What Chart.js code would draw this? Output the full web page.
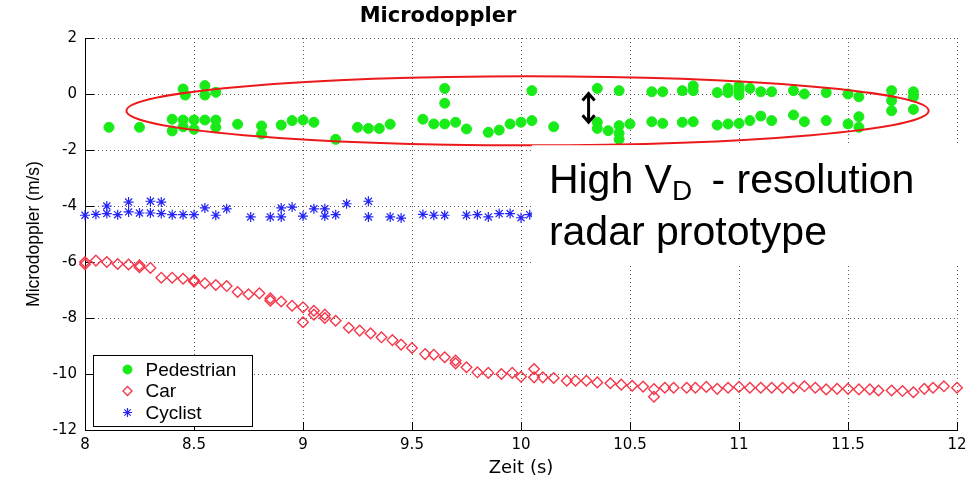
<!DOCTYPE html>
<html>
<head>
<meta charset="utf-8">
<script src="https://cdn.jsdelivr.net/npm/chart.js@4.4.0/dist/chart.umd.min.js"></script>
<style>
  body { margin: 0; background: #fff; }
  #wrap { width: 978px; height: 484px; }
</style>
</head>
<body>
<div id="wrap"><canvas id="dopplerChart" width="978" height="484"></canvas></div>
<script>
// tick values
const xTicks = [8, 8.5, 9, 9.5, 10, 10.5, 11, 11.5, 12];
const yTicks = [-12, -10, -8, -6, -4, -2, 0, 2];

// Pedestrian: time (s) / microdoppler (m/s)
const pedTime = [8.11,8.25,8.40,8.40,8.45,8.46,8.45,8.45,8.50,8.50,
  8.55,8.55,8.60,8.55,8.60,8.60,8.70,8.81,8.81,8.90,
  8.95,9.00,9.05,9.15,9.25,9.30,9.35,9.40,9.55,9.60,
  9.65,9.65,9.65,9.70,9.75,9.85,9.90,9.95,10.00,10.05,
  10.05,10.15,10.35,10.35,10.35,10.40,10.45,10.45,10.45,10.45,
  10.50,10.60,10.65,10.60,10.65,10.74,10.79,10.79,10.74,10.79,
  10.90,10.95,10.95,11.00,11.00,11.00,11.05,11.10,11.15,10.90,
  10.95,11.00,11.05,11.10,11.15,11.25,11.30,11.25,11.30,11.40,
  11.40,11.50,11.55,11.50,11.55,11.55,11.70,11.70,11.70,11.80,
  11.80,11.80];
const pedDoppler = [-1.19,-1.19,-0.90,-1.32,0.18,-0.04,-0.93,-1.17,-0.93,-1.26,
  0.30,-0.04,0.06,-0.93,-0.93,-1.19,-1.08,-1.14,-1.43,-1.11,
  -0.95,-0.93,-1.01,-1.62,-1.19,-1.23,-1.23,-1.08,-0.90,-1.07,
  0.20,-0.33,-1.07,-1.01,-1.25,-1.37,-1.29,-1.07,-1.01,0.12,
  -0.95,-1.17,0.20,-1.01,-1.23,-1.31,0.12,-1.13,-1.40,-1.62,
  -1.07,0.08,0.08,-0.99,-1.05,0.12,0.29,0.12,-1.01,-0.99,
  0.05,0.20,0.05,0.29,0.12,-0.04,0.20,0.08,0.08,-1.11,
  -1.07,-1.05,-0.95,-0.79,-0.95,0.12,0.00,-0.75,-0.99,0.05,
  -0.95,0.00,-0.10,-1.07,-0.81,-1.19,0.12,-0.24,-0.60,0.08,
  -0.10,-0.55];

// Car
const carTime = [8.00,8.00,8.05,8.10,8.15,8.20,8.25,8.25,8.30,8.35,
  8.40,8.45,8.50,8.50,8.55,8.60,8.65,8.70,8.75,8.80,
  8.85,8.85,8.90,8.95,9.00,9.00,9.05,9.05,9.10,9.10,
  9.15,9.21,9.26,9.31,9.36,9.41,9.45,9.50,9.56,9.60,
  9.65,9.70,9.70,9.75,9.80,9.85,9.91,9.96,10.00,10.06,
  10.06,10.10,10.15,10.21,10.25,10.30,10.35,10.41,10.46,10.51,
  10.56,10.61,10.61,10.66,10.70,10.76,10.80,10.85,10.90,10.95,
  11.00,11.05,11.10,11.15,11.20,11.25,11.30,11.35,11.40,11.45,
  11.50,11.55,11.60,11.64,11.70,11.75,11.80,11.85,11.89,11.94,
  12.00];
const carDoppler = [-6.00,-6.08,-5.95,-6.00,-6.07,-6.09,-6.12,-6.19,-6.21,-6.56,
  -6.56,-6.60,-6.65,-6.70,-6.76,-6.82,-6.86,-7.07,-7.15,-7.12,
  -7.30,-7.38,-7.41,-7.56,-7.62,-8.15,-7.74,-7.88,-7.88,-8.00,
  -8.10,-8.35,-8.45,-8.55,-8.69,-8.79,-8.95,-9.07,-9.29,-9.31,
  -9.40,-9.52,-9.62,-9.76,-9.94,-9.96,-10.00,-9.96,-10.10,-9.82,
  -10.12,-10.12,-10.14,-10.24,-10.24,-10.24,-10.30,-10.33,-10.38,-10.42,
  -10.45,-10.54,-10.81,-10.49,-10.49,-10.49,-10.49,-10.46,-10.53,-10.49,
  -10.46,-10.49,-10.49,-10.49,-10.49,-10.49,-10.44,-10.49,-10.55,-10.53,
  -10.53,-10.55,-10.55,-10.59,-10.59,-10.61,-10.65,-10.53,-10.49,-10.44,
  -10.49];

// Cyclist
const cycTime = [8.00,8.05,8.10,8.10,8.15,8.20,8.20,8.25,8.30,8.30,
  8.35,8.35,8.40,8.45,8.50,8.55,8.60,8.65,8.76,8.85,
  8.90,8.90,8.95,9.00,9.05,9.10,9.10,9.15,9.20,9.30,
  9.30,9.40,9.45,9.55,9.60,9.65,9.75,9.80,9.85,9.90,
  9.95,10.00,10.04];
const cycDoppler = [-4.33,-4.30,-4.00,-4.27,-4.31,-3.86,-4.21,-4.25,-3.83,-4.25,
  -3.86,-4.27,-4.31,-4.31,-4.31,-4.07,-4.33,-4.10,-4.39,-4.39,
  -4.07,-4.39,-4.04,-4.36,-4.10,-4.10,-4.36,-4.31,-3.92,-3.83,
  -4.39,-4.39,-4.43,-4.30,-4.33,-4.33,-4.33,-4.31,-4.39,-4.27,
  -4.27,-4.42,-4.31];

const toPoints = (xs, ys) => xs.map((t, i) => ({ x: t, y: ys[i] }));

// annotation: ellipse round the pedestrian band, arrow, text box (data units)
const ringCenter = [10.03, -0.60];
const ringRadius = [1.84, 1.23];
const arrowAt = [10.31, 0.02, -1.01];
const noteBox = [10.05, -1.83, -6.12];

const green = 'rgb(25,235,25)';
const red = 'rgb(245,55,75)';
const blue = 'rgb(35,35,245)';

const overlay = {
    id: 'overlay',
    beforeDatasetsDraw(chart) {
        // inward tick marks, matlab style
        const { ctx, chartArea: ca, scales: { x, y } } = chart;
        ctx.save();
        ctx.strokeStyle = '#000';
        ctx.lineWidth = 1;
        ctx.beginPath();
        xTicks.forEach(v => {
            const px = Math.round(x.getPixelForValue(v)) + 0.5;
            ctx.moveTo(px, ca.bottom);
            ctx.lineTo(px, ca.bottom - 8);
        });
        yTicks.forEach(v => {
            const py = Math.round(y.getPixelForValue(v)) + 0.5;
            ctx.moveTo(ca.left, py);
            ctx.lineTo(ca.left + 9, py);
        });
        ctx.stroke();
        ctx.restore();
    },
    afterDatasetsDraw(chart) {
        const { ctx, chartArea: ca, scales: { x, y } } = chart;
        ctx.save();

        // red ellipse
        const cx = x.getPixelForValue(ringCenter[0]);
        const cy = y.getPixelForValue(ringCenter[1]);
        const rx = x.getPixelForValue(ringCenter[0] + ringRadius[0]) - cx;
        const ry = y.getPixelForValue(ringCenter[1] - ringRadius[1]) - cy;
        ctx.strokeStyle = 'rgb(235,25,25)';
        ctx.lineWidth = 2;
        ctx.beginPath();
        ctx.ellipse(cx, cy, rx, ry, 0, 0, Math.PI * 2);
        ctx.stroke();

        // double arrow
        const ax = x.getPixelForValue(arrowAt[0]);
        const a1 = y.getPixelForValue(arrowAt[1]);
        const a2 = y.getPixelForValue(arrowAt[2]);
        ctx.strokeStyle = '#000';
        ctx.lineWidth = 3;
        ctx.beginPath();
        ctx.moveTo(ax, a1 + 1);
        ctx.lineTo(ax, a2 - 1);
        ctx.moveTo(ax - 6, a1 + 7); ctx.lineTo(ax, a1); ctx.lineTo(ax + 6, a1 + 7);
        ctx.moveTo(ax - 6, a2 - 7); ctx.lineTo(ax, a2); ctx.lineTo(ax + 6, a2 - 7);
        ctx.stroke();

        // white note box with text
        const bx = x.getPixelForValue(noteBox[0]);
        const bt = y.getPixelForValue(noteBox[1]);
        const bb = y.getPixelForValue(noteBox[2]);
        ctx.fillStyle = '#fff';
        ctx.fillRect(bx, bt, chart.width - 3 - bx, bb - bt);
        ctx.fillStyle = '#000';
        ctx.textAlign = 'left';
        ctx.textBaseline = 'alphabetic';
        const big = '41px "Liberation Sans", Arial, sans-serif';
        let tx = bx + 17;
        ctx.font = big;
        ctx.fillText('High V', tx, bt + 48);
        tx += ctx.measureText('High V').width;
        ctx.font = '28px "Liberation Sans", Arial, sans-serif';
        ctx.fillText('D', tx, bt + 55);
        tx += ctx.measureText('D').width + 8;
        ctx.font = big;
        ctx.fillText(' - resolution', tx, bt + 48);
        ctx.fillText('radar prototype', bx + 17, bt + 100);

        // legend, bottom-left inside the axes
        const lw = 159, lh = 71;
        const lx = Math.round(ca.left + 8) + 0.5;
        const ly = Math.round(ca.bottom - 4 - lh) + 0.5;
        ctx.fillStyle = '#fff';
        ctx.fillRect(lx, ly, lw, lh);
        ctx.strokeStyle = '#000';
        ctx.lineWidth = 1;
        ctx.strokeRect(lx, ly, lw, lh);
        ctx.font = '19px "Liberation Sans", Arial, sans-serif';
        ctx.textBaseline = 'middle';
        chart.data.datasets.forEach((ds, i) => {
            const my = ly + 14 + i * 21.5;
            ctx.fillStyle = ds.pointBackgroundColor;
            ctx.strokeStyle = ds.pointBorderColor;
            ctx.lineWidth = ds.pointBorderWidth;
            Chart.helpers.drawPoint(ctx, {
                pointStyle: ds.pointStyle, rotation: 0,
                radius: 4.5, borderWidth: ds.pointBorderWidth
            }, lx + 34, my);
            ctx.fillStyle = '#000';
            ctx.fillText(ds.label, lx + 52, my + 1);
        });
        ctx.restore();
    },
    afterDraw(chart) {
        const { ctx } = chart;
        ctx.save();
        ctx.fillStyle = '#000';
        ctx.font = 'bold 21px "DejaVu Sans", sans-serif';
        ctx.textAlign = 'center';
        ctx.textBaseline = 'middle';
        ctx.fillText('Microdoppler', 438, 17);
        ctx.restore();
    }
};

const tickFont = { family: 'DejaVu Sans', size: 15 };

const ctx = document.getElementById('dopplerChart').getContext('2d');
const dopplerChart = new Chart(ctx, {
    type: 'scatter',
    data: {
        datasets: [{
            label: 'Pedestrian',
            data: toPoints(pedTime, pedDoppler),
            pointStyle: 'circle',
            pointRadius: 5,
            pointBackgroundColor: green,
            pointBorderColor: green,
            pointBorderWidth: 1,
            clip: false
        }, {
            label: 'Car',
            data: toPoints(carTime, carDoppler),
            pointStyle: 'rectRot',
            pointRadius: 5.3,
            pointBackgroundColor: 'rgba(0,0,0,0)',
            pointBorderColor: red,
            pointBorderWidth: 1.4,
            clip: false
        }, {
            label: 'Cyclist',
            data: toPoints(cycTime, cycDoppler),
            pointStyle: 'star',
            pointRadius: 5,
            pointBackgroundColor: blue,
            pointBorderColor: blue,
            pointBorderWidth: 1.2,
            clip: false
        }]
    },
    options: {
        responsive: false,
        animation: false,
        devicePixelRatio: 1,
        layout: { padding: { top: 38, right: 21, bottom: 0, left: 0 } },
        scales: {
            x: {
                type: 'linear',
                min: 8,
                max: 12,
                afterBuildTicks: s => { s.ticks = xTicks.map(v => ({ value: v })); },
                afterFit: s => { s.height = 54; },
                grid: { color: 'rgba(60,60,60,0.85)', lineWidth: 1, drawTicks: false },
                border: { display: true, color: '#000', width: 1, dash: [1, 3] },
                ticks: {
                    color: '#000',
                    font: tickFont,
                    padding: 6,
                    maxRotation: 0,
                    autoSkip: false,
                    callback: v => String(v)
                },
                title: {
                    display: true,
                    text: 'Zeit (s)',
                    color: '#000',
                    font: { family: 'DejaVu Sans', size: 18 },
                    padding: { top: 0, bottom: 5 }
                }
            },
            y: {
                type: 'linear',
                min: -12,
                max: 2,
                afterBuildTicks: s => { s.ticks = yTicks.map(v => ({ value: v })); },
                afterFit: s => { s.width = 85; },
                grid: { color: 'rgba(60,60,60,0.85)', lineWidth: 1, drawTicks: false },
                border: { display: true, color: '#000', width: 1, dash: [1, 3] },
                ticks: {
                    color: '#000',
                    font: tickFont,
                    padding: 8,
                    autoSkip: false,
                    callback: v => String(v)
                },
                title: {
                    display: true,
                    text: 'Microdoppler (m/s)',
                    color: '#000',
                    font: { family: 'Liberation Sans', size: 17.5 },
                    padding: { top: 24, bottom: 0 }
                }
            }
        },
        plugins: {
            legend: { display: false },
            title: { display: false },
            tooltip: { enabled: false }
        }
    },
    plugins: [overlay]
});
</script>
</body>
</html>
